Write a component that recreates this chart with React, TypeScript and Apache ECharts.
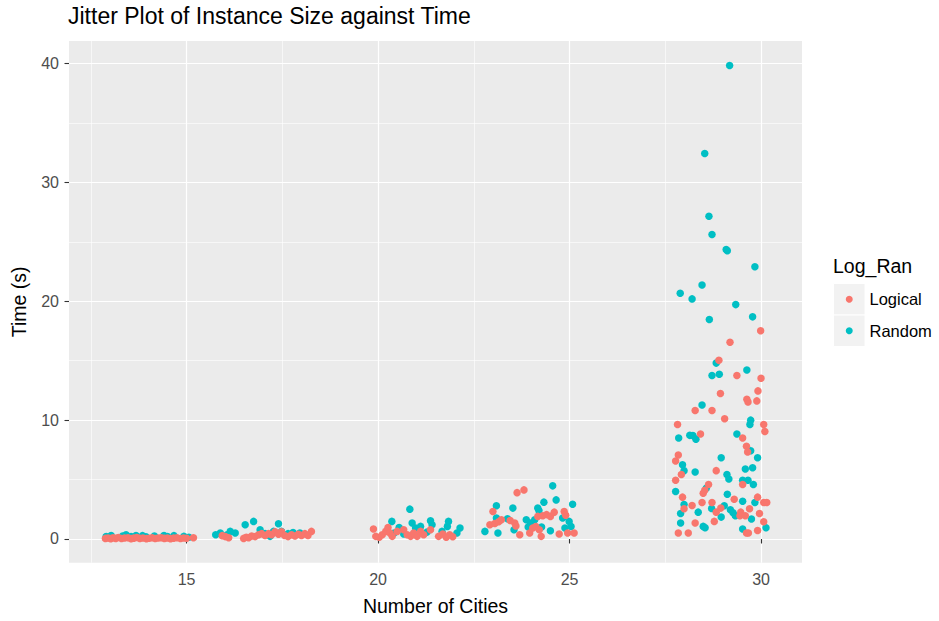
import React, { useEffect, useRef } from "react";
import * as echarts from "echarts";

// ---- Axis definitions ----
const xRange = [11.93, 31.07];
const yRange = [-1.995, 41.9];
const xMajorTicks = [15, 20, 25, 30];
const xMinorTicks = [12.5, 17.5, 22.5, 27.5];
const yMajorTicks = [0, 10, 20, 30, 40];
const yMinorTicks = [5, 15, 25, 35];

const seriesNames = ["Logical", "Random"];
const seriesColors = ["#F8766D", "#00BFC4"];

// ---- Data: [number of cities (jittered), time in s] ----
const logical13to15 = [
  [12.88, 0.05], [12.95, 0.08], [13.02, 0.03], [13.08, 0.1], [13.15, 0.05], [13.22, 0.12],
  [13.3, 0.04], [13.38, 0.08], [13.47, 0.1], [13.55, 0.03], [13.62, 0.07], [13.7, 0.12],
  [13.78, 0.05], [13.86, 0.09], [13.95, 0.03], [14.02, 0.06], [14.1, 0.1], [14.18, 0.04],
  [14.26, 0.08], [14.34, 0.11], [14.42, 0.05], [14.5, 0.09], [14.58, 0.03], [14.66, 0.07],
  [14.75, 0.1], [14.84, 0.04], [14.92, 0.08], [15.0, 0.06], [15.18, 0.1],
];
const random13to15 = [
  [12.9, 0.2], [13.03, 0.3], [13.33, 0.25], [13.42, 0.35], [13.55, 0.2], [13.68, 0.3],
  [13.85, 0.28], [13.94, 0.18], [14.16, 0.25], [14.41, 0.3], [14.5, 0.2], [14.67, 0.28],
  [14.93, 0.22], [15.06, 0.15],
];
const logical16to18 = [
  [15.93, 0.28], [16.01, 0.2], [16.1, 0.1], [16.49, 0.05], [16.56, 0.15], [16.62, 0.1],
  [16.7, 0.25], [16.79, 0.2], [16.88, 0.35], [16.96, 0.45], [17.05, 0.3], [17.14, 0.45],
  [17.22, 0.35], [17.31, 0.6], [17.4, 0.4], [17.48, 0.6], [17.56, 0.3], [17.65, 0.2],
  [17.74, 0.35], [17.83, 0.25], [17.92, 0.4], [18.0, 0.3], [18.09, 0.45], [18.17, 0.3],
  [18.26, 0.64],
];
const random16to18 = [
  [15.76, 0.36], [15.88, 0.5], [16.06, 0.36], [16.14, 0.64], [16.27, 0.5], [16.53, 1.2],
  [16.75, 1.48], [16.92, 0.78], [17.05, 0.45], [17.18, 0.22], [17.27, 0.64], [17.4, 1.28],
  [17.48, 0.64], [17.65, 0.45], [17.78, 0.55], [17.96, 0.5],
];
const logical20to22 = [
  [19.88, 0.84], [19.94, 0.22], [20.03, 0.14], [20.11, 0.36], [20.2, 0.64], [20.26, 0.97],
  [20.31, 0.5], [20.37, 0.22], [20.5, 0.64], [20.67, 0.78], [20.76, 0.36], [20.85, 0.22],
  [20.93, 0.5], [21.02, 0.22], [21.11, 0.64], [21.19, 0.36], [21.37, 0.78], [21.58, 0.22],
  [21.69, 0.42], [21.78, 0.14], [21.87, 0.36], [21.95, 0.19],
];
const random20to22 = [
  [20.36, 1.48], [20.42, 0.5], [20.55, 0.97], [20.67, 0.42], [20.83, 2.51], [20.89, 1.34],
  [20.98, 0.92], [21.11, 1.06], [21.28, 0.58], [21.37, 1.53], [21.41, 1.2], [21.67, 0.64],
  [21.81, 1.06], [21.84, 1.48], [22.06, 0.5], [22.14, 0.92],
];
const logical23to25 = [
  [22.92, 1.2], [23.0, 2.31], [23.05, 1.3], [23.15, 1.45], [23.22, 1.62], [23.45, 1.55],
  [23.57, 1.34], [23.6, 1.1], [23.63, 3.9], [23.7, 0.36], [23.81, 4.13], [23.96, 0.5],
  [24.04, 0.92], [24.12, 1.05], [24.17, 1.9], [24.21, 0.78], [24.26, 0.22], [24.3, 1.95],
  [24.4, 2.05], [24.5, 1.9], [24.6, 2.26], [24.73, 0.42], [24.86, 2.31], [24.9, 2.0],
  [24.95, 0.5], [25.12, 0.5],
];
const random23to25 = [
  [22.79, 0.64], [23.09, 2.79], [23.09, 1.76], [23.13, 0.5], [23.38, 1.7], [23.52, 2.6],
  [23.55, 0.78], [23.87, 1.62], [23.92, 1.0], [23.98, 1.35], [24.09, 1.62], [24.17, 2.6],
  [24.2, 2.4], [24.27, 1.0], [24.33, 3.1], [24.5, 0.7], [24.56, 4.47], [24.65, 3.29],
  [24.82, 1.76], [24.88, 0.92], [24.99, 1.48], [25.04, 1.06], [25.08, 2.93],
];
const logical28to30 = [
  [29.99, 17.52], [29.19, 16.56], [28.9, 15.03], [29.37, 13.75], [30.0, 13.52], [29.92, 12.46],
  [28.94, 12.24], [29.63, 11.76], [29.66, 11.53], [29.89, 11.62], [28.28, 10.81], [28.72, 10.81],
  [29.05, 10.11], [30.07, 9.64], [30.1, 9.05], [27.82, 9.64], [28.42, 8.83], [29.52, 8.49],
  [29.62, 7.8], [29.65, 7.32], [27.84, 7.07], [27.77, 6.56], [27.92, 5.42], [28.83, 5.75],
  [27.77, 4.94], [29.52, 4.58], [28.63, 4.58], [28.53, 4.1], [28.49, 3.85], [27.95, 3.52],
  [29.3, 3.35], [29.91, 3.52], [30.07, 3.07], [30.15, 3.07], [28.46, 3.07], [28.72, 3.07],
  [28.2, 2.82], [27.99, 2.54], [28.95, 2.6], [28.83, 2.26], [29.47, 2.26], [29.45, 1.95],
  [29.7, 2.54], [29.59, 1.95], [29.96, 2.15], [28.28, 1.34], [28.78, 1.48], [30.07, 1.45],
  [29.91, 0.72], [27.84, 0.5], [28.1, 0.5], [29.62, 0.5], [29.67, 0.5],
];
const random28to30 = [
  [29.18, 39.84], [28.53, 32.44], [28.64, 27.16], [28.72, 25.62], [29.09, 24.35], [29.12, 24.25],
  [29.84, 22.9], [28.46, 21.37], [27.89, 20.67], [28.2, 20.2], [29.34, 19.72], [29.78, 18.69],
  [28.65, 18.47], [28.83, 14.8], [28.72, 13.75], [28.91, 13.86], [29.63, 14.22], [28.46, 11.28],
  [29.73, 10.0], [29.71, 9.64], [27.85, 8.49], [28.14, 8.72], [28.22, 8.7], [28.3, 8.4],
  [29.37, 8.83], [29.73, 7.43], [29.91, 6.84], [28.96, 6.84], [27.95, 6.25], [27.99, 5.75],
  [28.28, 5.64], [29.11, 5.42], [29.16, 5.05], [29.59, 5.89], [29.78, 6.0], [29.52, 4.94],
  [29.66, 4.94], [29.8, 4.58], [28.57, 4.27], [27.77, 3.99], [29.12, 3.77], [29.52, 3.18],
  [29.84, 3.07], [27.99, 2.9], [28.71, 2.57], [29.04, 2.79], [29.2, 2.46], [29.27, 2.2],
  [29.33, 1.95], [29.75, 1.68], [28.36, 2.26], [27.9, 2.15], [28.96, 1.84], [27.9, 1.34],
  [28.49, 1.06], [28.54, 0.95], [29.52, 0.84], [30.13, 0.95],
];

const logicalPoints = [
  ...logical13to15, ...logical16to18, ...logical20to22, ...logical23to25, ...logical28to30,
];
const randomPoints = [
  ...random13to15, ...random16to18, ...random20to22, ...random23to25, ...random28to30,
];

const FONT = "'Liberation Sans', Arial, sans-serif";

export default function App() {
  const ref = useRef<HTMLDivElement>(null);

  useEffect(() => {
    if (!ref.current) return;
    const chart = echarts.init(ref.current, null, { renderer: "svg" });

    const majorX = {
      type: "value",
      min: xRange[0],
      max: xRange[1],
      position: "bottom",
      axisLine: { show: false },
      axisTick: {
        show: true,
        customValues: xMajorTicks,
        length: 4.5,
        lineStyle: { color: "#333333", width: 1.1 },
      },
      axisLabel: {
        customValues: xMajorTicks,
        color: "#4D4D4D",
        fontSize: 16,
        fontFamily: FONT,
        margin: 9,
      },
      splitLine: { show: true, lineStyle: { color: "#FFFFFF", width: 1.2 } },
      name: "Number of Cities",
      nameLocation: "middle",
      nameGap: 33,
      nameTextStyle: { fontSize: 19.5, color: "#000000", fontFamily: FONT },
    };
    const minorX = {
      type: "value",
      min: xRange[0],
      max: xRange[1],
      position: "bottom",
      axisLine: { show: false },
      axisTick: { show: false, customValues: xMinorTicks },
      axisLabel: { show: false, customValues: xMinorTicks },
      splitLine: { show: true, lineStyle: { color: "#FFFFFF", width: 0.6 } },
    };
    const majorY = {
      type: "value",
      min: yRange[0],
      max: yRange[1],
      position: "left",
      axisLine: { show: false },
      axisTick: {
        show: true,
        customValues: yMajorTicks,
        length: 4.5,
        lineStyle: { color: "#333333", width: 1.1 },
      },
      axisLabel: {
        customValues: yMajorTicks,
        color: "#4D4D4D",
        fontSize: 16,
        fontFamily: FONT,
        margin: 10,
      },
      splitLine: { show: true, lineStyle: { color: "#FFFFFF", width: 1.2 } },
      name: "Time (s)",
      nameLocation: "middle",
      nameGap: 40,
      nameRotate: 90,
      nameTextStyle: { fontSize: 19.5, color: "#000000", fontFamily: FONT },
    };
    const minorY = {
      type: "value",
      min: yRange[0],
      max: yRange[1],
      position: "left",
      axisLine: { show: false },
      axisTick: { show: false, customValues: yMinorTicks },
      axisLabel: { show: false, customValues: yMinorTicks },
      splitLine: { show: true, lineStyle: { color: "#FFFFFF", width: 0.6 } },
    };

    const keyX = 833.5;
    const keyY = 283.5;
    const keySize = 31.5;

    chart.setOption({
      animation: false,
      backgroundColor: "#FFFFFF",
      title: {
        text: "Jitter Plot of Instance Size against Time",
        left: 68,
        top: 4,
        padding: 0,
        textStyle: { fontSize: 23, fontWeight: "normal", color: "#000000", fontFamily: FONT },
      },
      grid: {
        left: 69,
        right: 137,
        top: 41,
        bottom: 58.3,
        show: true,
        backgroundColor: "#EBEBEB",
        borderWidth: 0,
      },
      xAxis: [majorX, minorX],
      yAxis: [majorY, minorY],
      series: [
        {
          name: seriesNames[1],
          type: "scatter",
          xAxisIndex: 0,
          yAxisIndex: 0,
          symbolSize: 7.5,
          itemStyle: { color: seriesColors[1], opacity: 1 },
          data: randomPoints,
        },
        {
          name: seriesNames[0],
          type: "scatter",
          xAxisIndex: 0,
          yAxisIndex: 0,
          symbolSize: 7.5,
          itemStyle: { color: seriesColors[0], opacity: 1 },
          data: logicalPoints,
        },
      ],
      graphic: [
        {
          type: "text",
          left: 833,
          top: 256,
          style: { text: "Log_Ran", fontSize: 19.5, fill: "#000000", fontFamily: FONT },
        },
        ...seriesNames.flatMap((name, i) => [
          {
            type: "rect",
            shape: { x: keyX, y: keyY + i * keySize, width: keySize, height: keySize },
            style: { fill: "#F2F2F2", stroke: "#FFFFFF", lineWidth: 1 },
          },
          {
            type: "circle",
            shape: { cx: keyX + keySize / 2, cy: keyY + keySize / 2 + i * keySize, r: 3.5 },
            style: { fill: seriesColors[i] },
          },
          {
            type: "text",
            x: 869.5,
            y: keyY + keySize / 2 + i * keySize,
            style: {
              text: name,
              fontSize: 16.5,
              fill: "#000000",
              fontFamily: FONT,
              verticalAlign: "middle",
              align: "left",
            },
          },
        ]),
      ],
    });

    return () => chart.dispose();
  }, []);

  return (
    <div
      ref={ref}
      style={{ position: "absolute", left: 0, top: 0, width: 939, height: 621 }}
    />
  );
}
